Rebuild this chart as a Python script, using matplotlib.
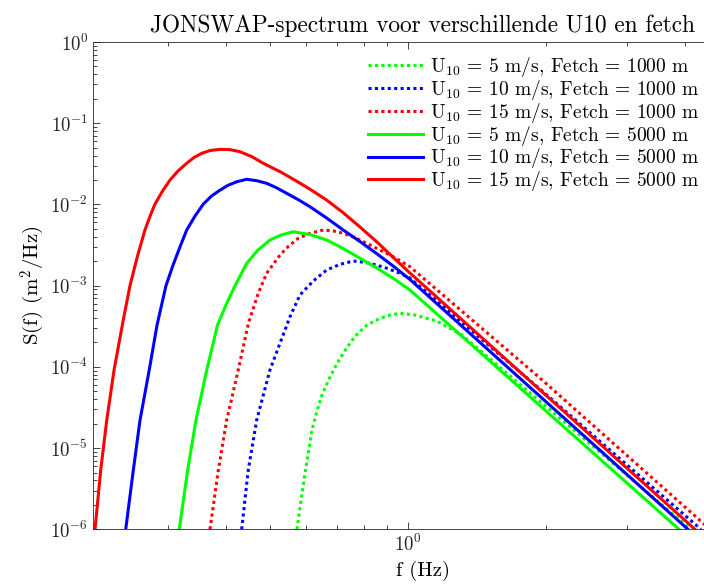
import matplotlib
matplotlib.use('Agg')
import matplotlib.pyplot as plt
from matplotlib.ticker import LogLocator, NullFormatter

plt.rcParams['font.family'] = 'cmr10'
plt.rcParams['mathtext.fontset'] = 'cm'
plt.rcParams['axes.formatter.use_mathtext'] = True

# waarden (f in Hz, S in m^2/Hz)
f_u5_f1000 = [0.572, 0.5926, 0.6046, 0.6168, 0.6326, 0.6486, 0.6719, 0.6993, 0.7316, 0.7657,
              0.8128, 0.8679, 0.9123, 0.9592, 1.034, 1.155, 1.309, 4.129]
S_u5_f1000 = [1.0e-6, 4.04e-6, 8.2e-6, 1.67e-5, 2.86e-5, 4.5e-5, 7.08e-5, 1.10e-4, 1.66e-4, 2.39e-4,
              3.27e-4, 3.96e-4, 4.34e-4, 4.56e-4, 4.35e-4, 3.66e-4, 2.46e-4, 1.0e-6]

f_u10_f1000 = [0.4335, 0.448, 0.4674, 0.4995, 0.5387, 0.5524, 0.5806, 0.6206, 0.6641, 0.7104,
               0.7587, 0.8048, 0.8535, 0.9032, 0.9592, 1.0085, 1.936, 4.341]
S_u10_f1000 = [1.0e-6, 5.36e-6, 2.21e-5, 9.14e-5, 2.84e-4, 4.14e-4, 7.66e-4, 1.14e-3, 1.56e-3, 1.83e-3,
               2.01e-3, 1.94e-3, 1.79e-3, 1.62e-3, 1.42e-3, 1.24e-3, 5.33e-5, 1.0e-6]

f_u15_f1000 = [0.3698, 0.3856, 0.4021, 0.4261, 0.448, 0.4557, 0.4711, 0.4913, 0.5254, 0.5485,
               0.5758, 0.6132, 0.6528, 0.6855, 0.7216, 0.7657, 0.8116, 0.9275, 1.0085, 1.936, 4.543]
S_u15_f1000 = [1.0e-6, 5.36e-6, 2.21e-5, 9.14e-5, 3.37e-4, 4.56e-4, 8.04e-4, 1.42e-3, 2.38e-3, 3.06e-3,
               3.83e-3, 4.44e-3, 4.84e-3, 4.73e-3, 4.41e-3, 3.91e-3, 3.32e-3, 2.27e-3, 1.71e-3, 7.28e-5, 1.0e-6]

f_u5_f5000 = [0.317, 0.3306, 0.3447, 0.3638, 0.384, 0.4021, 0.4192, 0.4445, 0.4693, 0.4995,
              0.5294, 0.5616, 0.6107, 0.6641, 0.7206, 0.7849, 0.8535, 0.9275, 1.0085, 3.889]
S_u5_f5000 = [1.0e-6, 5.36e-6, 2.21e-5, 9.14e-5, 3.27e-4, 6.05e-4, 9.97e-4, 1.88e-3, 2.71e-3, 3.65e-3,
              4.22e-3, 4.61e-3, 4.25e-3, 3.65e-3, 2.88e-3, 2.17e-3, 1.65e-3, 1.23e-3, 8.83e-4, 1.0e-6]

f_u10_f5000 = [0.2423, 0.2517, 0.2603, 0.2726, 0.2835, 0.2965, 0.3072, 0.3182, 0.329, 0.343,
               0.3576, 0.3726, 0.3889, 0.4047, 0.4227, 0.4445, 0.4674, 0.4913, 0.5168, 0.5433,
               0.575, 0.6107, 0.6641, 0.7216, 0.7849, 0.8535, 0.9275, 1.0085, 4.068]
S_u10_f5000 = [1.0e-6, 5.36e-6, 2.21e-5, 9.14e-5, 3.27e-4, 9.97e-4, 1.79e-3, 3.01e-3, 4.84e-3, 7.2e-3,
               1.01e-2, 1.27e-2, 1.50e-2, 1.72e-2, 1.90e-2, 2.04e-2, 1.96e-2, 1.82e-2, 1.60e-2, 1.37e-2,
               1.15e-2, 9.37e-3, 6.8e-3, 4.84e-3, 3.49e-3, 2.48e-3, 1.74e-3, 1.19e-3, 1.0e-6]

f_u15_f5000 = [0.2077, 0.2137, 0.2203, 0.2285, 0.2393, 0.2475, 0.257, 0.2668, 0.2738, 0.2806,
               0.2914, 0.3026, 0.3149, 0.329, 0.3412, 0.3548, 0.3698, 0.3889, 0.4089, 0.4298,
               0.4557, 0.4831, 0.53, 0.5806, 0.6198, 0.6641, 0.7206, 0.7849, 0.8549, 0.9275,
               1.0085, 4.214]
S_u15_f5000 = [1.0e-6, 5.36e-6, 2.21e-5, 9.14e-5, 3.77e-4, 9.97e-4, 2.31e-3, 4.84e-3, 7.2e-3, 1.01e-2,
               1.46e-2, 2.0e-2, 2.58e-2, 3.21e-2, 3.78e-2, 4.26e-2, 4.61e-2, 4.77e-2, 4.73e-2, 4.46e-2,
               3.89e-2, 3.21e-2, 2.47e-2, 1.83e-2, 1.46e-2, 1.13e-2, 7.95e-3, 5.27e-3, 3.44e-3, 2.22e-3,
               1.43e-3, 1.0e-6]

labels = [
    r'U$_{10}$ = 5 m/s, Fetch = 1000 m',
    r'U$_{10}$ = 10 m/s, Fetch = 1000 m',
    r'U$_{10}$ = 15 m/s, Fetch = 1000 m',
    r'U$_{10}$ = 5 m/s, Fetch = 5000 m',
    r'U$_{10}$ = 10 m/s, Fetch = 5000 m',
    r'U$_{10}$ = 15 m/s, Fetch = 5000 m',
]

dots = (0, (1, 1.1))
series = [
    (f_u5_f1000, S_u5_f1000, '#00ff00', dots),
    (f_u10_f1000, S_u10_f1000, '#0000ff', dots),
    (f_u15_f1000, S_u15_f1000, '#ff0000', dots),
    (f_u5_f5000, S_u5_f5000, '#00ff00', '-'),
    (f_u10_f5000, S_u10_f5000, '#0000ff', '-'),
    (f_u15_f5000, S_u15_f5000, '#ff0000', '-'),
]

fig = plt.figure(figsize=(7.04, 5.86), dpi=100)
# assen lopen rechts voorbij de rand van de afbeelding
ax = fig.add_axes([93 / 704, 56.7 / 586, (752 - 93) / 704, 487.3 / 586])

for (f, S, c, ls), lab in zip(series, labels):
    ax.plot(f, S, color=c, linestyle=ls, linewidth=2.2, label=lab,
            solid_joinstyle='round', dash_capstyle='butt')

ax.set_xscale('log')
ax.set_yscale('log')
ax.set_xlim(0.2056, 5.61)
ax.set_ylim(1e-6, 1)

ax.yaxis.set_major_locator(LogLocator(base=10, numticks=10))
ax.yaxis.set_minor_locator(LogLocator(base=10, subs=range(2, 10), numticks=10))
ax.xaxis.set_minor_locator(LogLocator(base=10, subs=range(2, 10), numticks=10))
ax.xaxis.set_minor_formatter(NullFormatter())
ax.yaxis.set_minor_formatter(NullFormatter())

ax.tick_params(which='both', direction='in', top=True, right=True,
               colors='#262626', labelsize=13.5, width=0.6)
ax.tick_params(which='major', length=5)
ax.tick_params(which='minor', length=2.8, labelbottom=False, labelleft=False)
for sp in ax.spines.values():
    sp.set_color('#262626')
    sp.set_linewidth(0.6)

ax.set_title('JONSWAP-spectrum voor verschillende U10 en fetch', fontsize=16.8, pad=7)
ax.set_xlabel('f (Hz)', fontsize=15, labelpad=4)
ax.set_ylabel(r'S(f) (m$^2$/Hz)', fontsize=15, labelpad=2)

ax.legend(loc='upper left', bbox_to_anchor=(368 / 704, 1 - 55 / 586),
          bbox_transform=fig.transFigure, frameon=False, fontsize=14,
          handlelength=2.85, handletextpad=0.35, labelspacing=-0.06, borderpad=0,
          borderaxespad=0)

fig.savefig('out.png', dpi=100)
